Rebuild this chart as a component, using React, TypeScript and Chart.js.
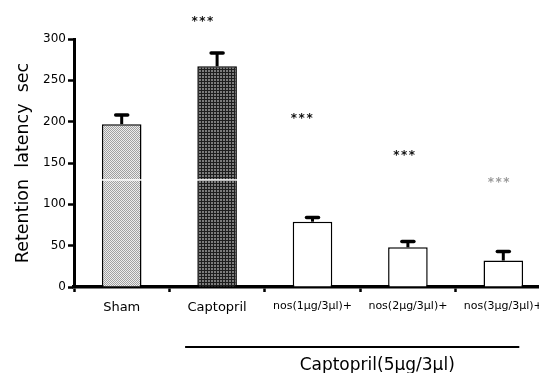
import React, { useEffect, useRef } from "react";
import { Chart, registerables } from "chart.js";

Chart.register(...registerables);

const categories = ["Sham", "Captopril", "nos(1μg/3μl)+", "nos(2μg/3μl)+", "nos(3μg/3μl)+"];
const means = [197, 267, 79, 48, 32];
const sem = [11, 16, 5, 7, 11];
const starLabels = ["", "***", "***", "***", "***"];
const starLevels = [0, 324, 207, 162, 129];
const yTicks = [0, 50, 100, 150, 200, 250, 300];
const yTitle = "Retention  latency  sec";
const groupCaption = "Captopril(5μg/3μl)";
const artifactLevel = 129.5;

const FONT = "'DejaVu Sans', 'Liberation Sans', sans-serif";

function makePattern(kind: "light" | "dark"): CanvasPattern | string {
  const c = document.createElement("canvas");
  const g = c.getContext("2d");
  if (!g) return kind === "light" ? "#c8c8c8" : "#555";
  if (kind === "light") {
    c.width = 2;
    c.height = 2;
    g.fillStyle = "#ececec";
    g.fillRect(0, 0, 2, 2);
    g.fillStyle = "#a0a0a0";
    g.fillRect(0, 0, 1, 1);
    g.fillRect(1, 1, 1, 1);
  } else {
    c.width = 3;
    c.height = 3;
    g.fillStyle = "#7c7c7c";
    g.fillRect(0, 0, 3, 3);
    g.fillStyle = "#1e1e1e";
    g.fillRect(0, 0, 3, 1);
    g.fillRect(0, 0, 1, 3);
  }
  const p = g.createPattern(c, "repeat");
  return p || (kind === "light" ? "#c8c8c8" : "#555");
}

const starShift = [0, -14, -10, -3, -4];
const starColors = ["#111", "#111", "#111", "#111", "#9a9a9a"];

const overlay = {
  id: "overlay",
  afterDatasetsDraw(chart: any) {
    const ctx = chart.ctx;
    const meta = chart.getDatasetMeta(0);
    const y = chart.scales.y;
    ctx.save();
    // white artifact line across tall patterned bars
    meta.data.forEach((el: any, i: number) => {
      if (means[i] > artifactLevel && i < 2) {
        const yy = y.getPixelForValue(artifactLevel);
        ctx.fillStyle = "#ffffff";
        ctx.fillRect(el.x - el.width / 2 - 1, yy - 0.75, el.width + 2, 1.5);
      }
    });
    // error bars (upper only)
    ctx.strokeStyle = "#000";
    meta.data.forEach((el: any, i: number) => {
      const top = y.getPixelForValue(means[i] + sem[i]);
      ctx.lineWidth = 3;
      ctx.beginPath();
      ctx.moveTo(el.x, el.y);
      ctx.lineTo(el.x, top);
      ctx.stroke();
      ctx.lineWidth = 3.5;
      ctx.lineCap = "round";
      ctx.beginPath();
      ctx.moveTo(el.x - 6, top);
      ctx.lineTo(el.x + 6, top);
      ctx.stroke();
      ctx.lineCap = "butt";
    });
    ctx.restore();
  },
  afterDraw(chart: any) {
    const ctx = chart.ctx;
    const x = chart.scales.x;
    const y = chart.scales.y;
    ctx.save();
    // significance stars
    ctx.font = `bold 12px ${FONT}`;
    ctx.textAlign = "center";
    ctx.textBaseline = "middle";
    try {
      (ctx as any).letterSpacing = "1.5px";
    } catch (e) {}
    starLabels.forEach((s, i) => {
      if (!s) return;
      ctx.fillStyle = starColors[i];
      ctx.fillText(s, x.getPixelForValue(i) + starShift[i], y.getPixelForValue(starLevels[i]) + 3);
    });
    try {
      (ctx as any).letterSpacing = "0px";
    } catch (e) {}
    // group bracket line and caption
    const x0 = x.getPixelForValue(1) - 32;
    const x1 = x.getPixelForValue(4) + 16;
    const ly = chart.chartArea.bottom + 60;
    ctx.strokeStyle = "#000";
    ctx.lineWidth = 2;
    ctx.beginPath();
    ctx.moveTo(x0, ly);
    ctx.lineTo(x1, ly);
    ctx.stroke();
    ctx.fillStyle = "#000";
    ctx.font = `17px ${FONT}`;
    ctx.textAlign = "center";
    ctx.textBaseline = "alphabetic";
    ctx.fillText(groupCaption, (x0 + x1) / 2 + 25, ly + 23);
    ctx.restore();
  },
};

export default function App() {
  const ref = useRef<HTMLCanvasElement>(null);
  useEffect(() => {
    const canvas = ref.current;
    if (!canvas) return;
    const shamPat = makePattern("light");
    const capPat = makePattern("dark");
    const chart = new Chart(canvas, {
      type: "bar",
      data: {
        labels: categories,
        datasets: [
          {
            data: means,
            backgroundColor: [shamPat, capPat, "#ffffff", "#ffffff", "#ffffff"] as any,
            borderColor: "#000",
            borderWidth: 1.5,
            barPercentage: 0.415,
            categoryPercentage: 1,
          },
        ],
      },
      options: {
        animation: false,
        responsive: false,
        devicePixelRatio: 1,
        layout: { padding: { top: 39, right: 9, bottom: 0, left: 0 } },
        plugins: { legend: { display: false }, tooltip: { enabled: false } },
        scales: {
          x: {
            offset: true,
            grid: {
              display: true,
              drawOnChartArea: false,
              drawTicks: true,
              tickLength: 5,
              tickWidth: 2.5,
              tickColor: "#000",
              offset: true,
            },
            border: { display: true, color: "#000", width: 3.5 },
            ticks: {
              color: "#000",
              font: (c: any) => ({ family: FONT, size: c.index < 2 ? 13 : 11 }),
              padding: 8,
              maxRotation: 0,
              minRotation: 0,
              autoSkip: false,
            },
            afterFit: (s: any) => {
              s.height = 86;
            },
          },
          y: {
            min: 0,
            max: 300,
            afterBuildTicks: (s: any) => {
              s.ticks = yTicks.map((v) => ({ value: v }));
            },
            ticks: { color: "#000", font: { family: FONT, size: 12 }, padding: 2 },
            grid: { drawOnChartArea: false, tickLength: 6, tickWidth: 2.5, tickColor: "#000" },
            border: { color: "#000", width: 3 },
            title: {
              display: true,
              text: yTitle,
              color: "#000",
              font: { family: FONT, size: 17.5 },
              padding: { top: 13, bottom: 0 },
            },
            afterFit: (s: any) => {
              s.width = 74;
            },
          },
        },
      } as any,
      plugins: [overlay],
    });
    return () => chart.destroy();
  }, []);

  return (
    <div
      style={{
        position: "fixed",
        left: 0,
        top: 0,
        width: 539,
        height: 373,
        overflow: "hidden",
        background: "#fff",
      }}
    >
      <canvas ref={ref} width={560} height={373} style={{ display: "block" }} />
    </div>
  );
}
